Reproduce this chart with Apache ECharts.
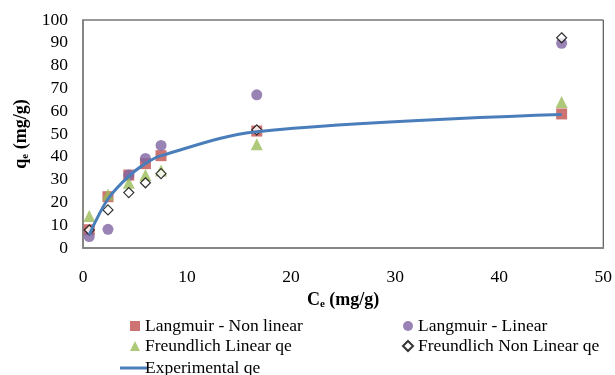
<!DOCTYPE html>
<html>
<head>
<meta charset="utf-8">
<script src="https://cdn.jsdelivr.net/npm/echarts@6/dist/echarts.min.js"></script>
<style>
  html, body { margin: 0; padding: 0; background: #fff; }
  #chart { width: 615px; height: 375px; }
</style>
</head>
<body>
<div id="chart"></div>
<script>
// Ce values (mg/g)
var ce = [0.6, 2.4, 4.4, 6.0, 7.5, 16.7, 46.0];
var langmuirNonLinear = [8, 22.5, 32, 37, 40.5, 51.3, 58.8];
var langmuirLinear = [5, 8.2, 32, 39.3, 45, 67.2, 89.8];
var freundlichLinear = [14, 23.5, 28.6, 32, 34, 45.5, 64];
var freundlichNonLinear = [7.9, 16.7, 24.3, 28.6, 32.6, 51.8, 92.2];
var experimental = [5.8, 21.5, 31.5, 37, 40.5, 51, 58.5];

function pairs(ys) {
  return ce.map(function (x, i) { return [x, ys[i]]; });
}

var font = "'Liberation Serif', 'Times New Roman', serif";
var myChart = echarts.init(document.getElementById("chart"));

var titleRich = {
  a: { fontFamily: font, fontWeight: "bold", fontSize: 18, color: "#000" },
  b: { fontFamily: font, fontWeight: "bold", fontSize: 11, color: "#000", verticalAlign: "bottom", padding: [9, 0, 0, 0] }
};

var legendText = { fontFamily: font, fontSize: 17.5, color: "#000" };

myChart.setOption({
  animation: false,
  textStyle: { fontFamily: font },
  grid: {
    left: 83,
    right: 11,
    top: 20,
    bottom: 127,
    show: true,
    borderColor: "#333",
    borderWidth: 1
  },
  xAxis: {
    type: "value",
    min: 0,
    max: 50,
    interval: 10,
    splitLine: { show: false },
    axisLine: { lineStyle: { color: "#868686", width: 2 } },
    axisTick: { show: false },
    axisLabel: { color: "#000", fontSize: 17.5, fontFamily: font, margin: 20 },
    name: "{a|C}{b|e}{a| (mg/g)}",
    nameLocation: "middle",
    nameGap: 40,
    nameTextStyle: { rich: titleRich }
  },
  yAxis: {
    type: "value",
    min: 0,
    max: 100,
    interval: 10,
    splitLine: { show: false },
    axisLine: { show: true, lineStyle: { color: "#868686", width: 2 } },
    axisTick: { show: false },
    axisLabel: { color: "#000", fontSize: 17.5, fontFamily: font, margin: 15 },
    name: "{a|q}{b|e}{a| (mg/g)}",
    nameLocation: "middle",
    nameGap: 46,
    nameTextStyle: { rich: titleRich }
  },
  legend: [
    {
      left: 125,
      top: 312,
      orient: "vertical",
      itemWidth: 10,
      itemHeight: 10,
      itemGap: 2,
      textStyle: Object.assign({ padding: [0, 0, 0, 0] }, legendText),
      data: ["Langmuir - Non linear", "Freundlich Linear qe"]
    },
    {
      left: 115,
      top: 354,
      itemWidth: 28,
      itemHeight: 3,
      textStyle: Object.assign({ padding: [0, 0, 0, -8] }, legendText),
      data: [{ name: "Experimental qe", icon: "rect" }]
    },
    {
      left: 397,
      top: 312,
      orient: "vertical",
      itemWidth: 10,
      itemHeight: 10,
      itemGap: 2,
      textStyle: Object.assign({ padding: [0, 0, 0, 0] }, legendText),
      data: ["Langmuir - Linear", "Freundlich Non Linear qe"]
    }
  ],
  series: [
    {
      name: "Langmuir - Non linear",
      type: "scatter",
      symbol: "rect",
      symbolSize: 11,
      itemStyle: { color: "#C0504D" },
      data: pairs(langmuirNonLinear)
    },
    {
      name: "Langmuir - Linear",
      type: "scatter",
      symbol: "circle",
      symbolSize: 11,
      itemStyle: { color: "#8064A2" },
      data: pairs(langmuirLinear)
    },
    {
      name: "Freundlich Linear qe",
      type: "scatter",
      symbol: "triangle",
      symbolSize: 12,
      itemStyle: { color: "#9BBB59" },
      data: pairs(freundlichLinear)
    },
    {
      name: "Freundlich Non Linear qe",
      type: "scatter",
      symbol: "diamond",
      symbolSize: 10,
      itemStyle: { color: "#fff", borderColor: "#000", borderWidth: 1.2 },
      data: pairs(freundlichNonLinear)
    },
    {
      name: "Experimental qe",
      type: "line",
      smooth: 0.35,
      symbol: "none",
      lineStyle: { color: "#4A7EBB", width: 3 },
      itemStyle: { color: "#4A7EBB" },
      data: pairs(experimental),
      z: 5
    }
  ]
});
</script>
</body>
</html>
